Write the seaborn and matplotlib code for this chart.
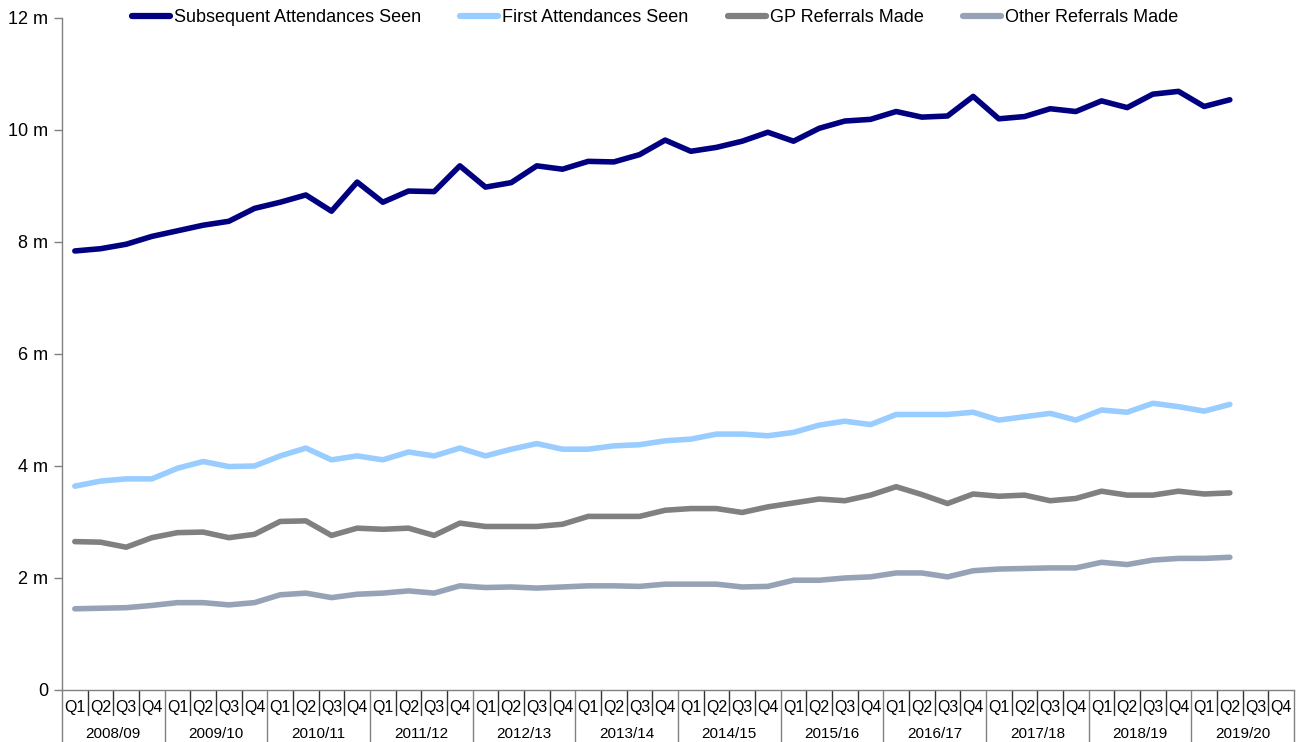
import matplotlib
matplotlib.use("Agg")
import matplotlib.pyplot as plt
import numpy as np
import pandas as pd
import seaborn as sns

# ── Data (millions) ──────────────────────────────────────────────────────────
years = ["2008/09", "2009/10", "2010/11", "2011/12", "2012/13", "2013/14",
         "2014/15", "2015/16", "2016/17", "2017/18", "2018/19", "2019/20"]
quarters = ["Q1", "Q2", "Q3", "Q4"]

subsequent = [7.84, 7.88, 7.96, 8.10, 8.20, 8.30, 8.37, 8.60,
              8.71, 8.84, 8.55, 9.07, 8.71, 8.91, 8.90, 9.36,
              8.98, 9.06, 9.36, 9.30, 9.44, 9.43, 9.56, 9.82,
              9.62, 9.69, 9.80, 9.96, 9.80, 10.03, 10.16, 10.19,
              10.33, 10.23, 10.25, 10.60, 10.20, 10.24, 10.38, 10.33,
              10.52, 10.40, 10.64, 10.69, 10.42, 10.54]
first = [3.64, 3.73, 3.77, 3.77, 3.96, 4.08, 3.99, 4.00,
         4.18, 4.32, 4.11, 4.18, 4.11, 4.25, 4.18, 4.32,
         4.18, 4.30, 4.40, 4.30, 4.30, 4.36, 4.38, 4.45,
         4.48, 4.57, 4.57, 4.54, 4.60, 4.73, 4.80, 4.74,
         4.92, 4.92, 4.92, 4.96, 4.82, 4.88, 4.94, 4.82,
         5.00, 4.96, 5.12, 5.06, 4.98, 5.10]
gp = [2.65, 2.64, 2.55, 2.72, 2.81, 2.82, 2.72, 2.78,
      3.01, 3.02, 2.76, 2.89, 2.87, 2.89, 2.76, 2.98,
      2.92, 2.92, 2.92, 2.96, 3.10, 3.10, 3.10, 3.21,
      3.24, 3.24, 3.17, 3.27, 3.34, 3.41, 3.38, 3.48,
      3.63, 3.49, 3.33, 3.50, 3.46, 3.48, 3.38, 3.42,
      3.55, 3.48, 3.48, 3.55, 3.50, 3.52]
other = [1.45, 1.46, 1.47, 1.51, 1.56, 1.56, 1.52, 1.56,
         1.70, 1.73, 1.65, 1.71, 1.73, 1.77, 1.73, 1.86,
         1.83, 1.84, 1.82, 1.84, 1.86, 1.86, 1.85, 1.89,
         1.89, 1.89, 1.84, 1.85, 1.96, 1.96, 2.00, 2.02,
         2.09, 2.09, 2.02, 2.13, 2.16, 2.17, 2.18, 2.18,
         2.28, 2.24, 2.32, 2.35, 2.35, 2.37]

series_names = ["Subsequent Attendances Seen", "First Attendances Seen",
                "GP Referrals Made", "Other Referrals Made"]
colors = ["#000080", "#99CCFF", "#808080", "#96A3B6"]

n_slots = len(years) * len(quarters)

rows = []
for name, vals in zip(series_names, [subsequent, first, gp, other]):
    for i, v in enumerate(vals):
        rows.append({"idx": i, "value": v, "series": name})
df = pd.DataFrame(rows)

# ── Figure ───────────────────────────────────────────────────────────────────
sns.set_theme(style="white")
plt.rcParams["font.family"] = ["Liberation Sans", "DejaVu Sans"]
plt.rcParams["text.color"] = "black"
plt.rcParams["xtick.color"] = "black"
plt.rcParams["ytick.color"] = "black"

fig = plt.figure(figsize=(13, 7.42), dpi=100)
ax = fig.add_axes([62 / 1300, 52 / 742, 1232 / 1300, 672 / 742])

sns.lineplot(data=df, x="idx", y="value", hue="series",
             hue_order=series_names, palette=colors,
             linewidth=4, ax=ax, legend=True,
             solid_capstyle="round", solid_joinstyle="round")

ax.set_xlim(-0.5, n_slots - 0.5)
ax.set_ylim(0, 12)
ax.set_yticks(range(0, 13, 2))
ax.set_yticklabels(["0"] + [f"{v} m" for v in range(2, 13, 2)], fontsize=13)
ax.tick_params(axis="y", length=6, width=1, color="#808080", pad=4,
               direction="out", left=True, labelcolor="black")
ax.set_xlabel("")
ax.set_ylabel("")

for side in ["top", "right"]:
    ax.spines[side].set_visible(False)
for side in ["left", "bottom"]:
    ax.spines[side].set_color("#808080")
    ax.spines[side].set_linewidth(1)

# category axis: quarter labels + separators, year labels + separators
ax.set_xticks(range(n_slots))
ax.set_xticklabels(quarters * len(years), fontsize=11.5)
ax.tick_params(axis="x", length=0, pad=7, labelcolor="black")
trans = ax.get_xaxis_transform()
drop_q = -25 / 672
drop_y = -52 / 672
for b in range(n_slots + 1):
    edge = b - 0.5
    if b % 4 == 0:
        ax.plot([edge, edge], [0, drop_y], transform=trans, color="#808080",
                lw=1, clip_on=False)
    else:
        ax.plot([edge, edge], [0, drop_q], transform=trans, color="#333333",
                lw=1, clip_on=False)
for k, yr in enumerate(years):
    ax.text(k * 4 + 1.5, -44 / 672, yr, transform=trans, ha="center",
            va="center", fontsize=11, color="black")

leg = ax.legend(loc="center", bbox_to_anchor=(655 / 1300, 724 / 742),
                bbox_transform=fig.transFigure, ncol=4, frameon=False,
                fontsize=13, handlelength=2.1, handletextpad=0.2,
                columnspacing=2.2)
for line in leg.get_lines():
    line.set_linewidth(4.5)
    line.set_solid_capstyle("round")

fig.savefig("out.png", dpi=100)
